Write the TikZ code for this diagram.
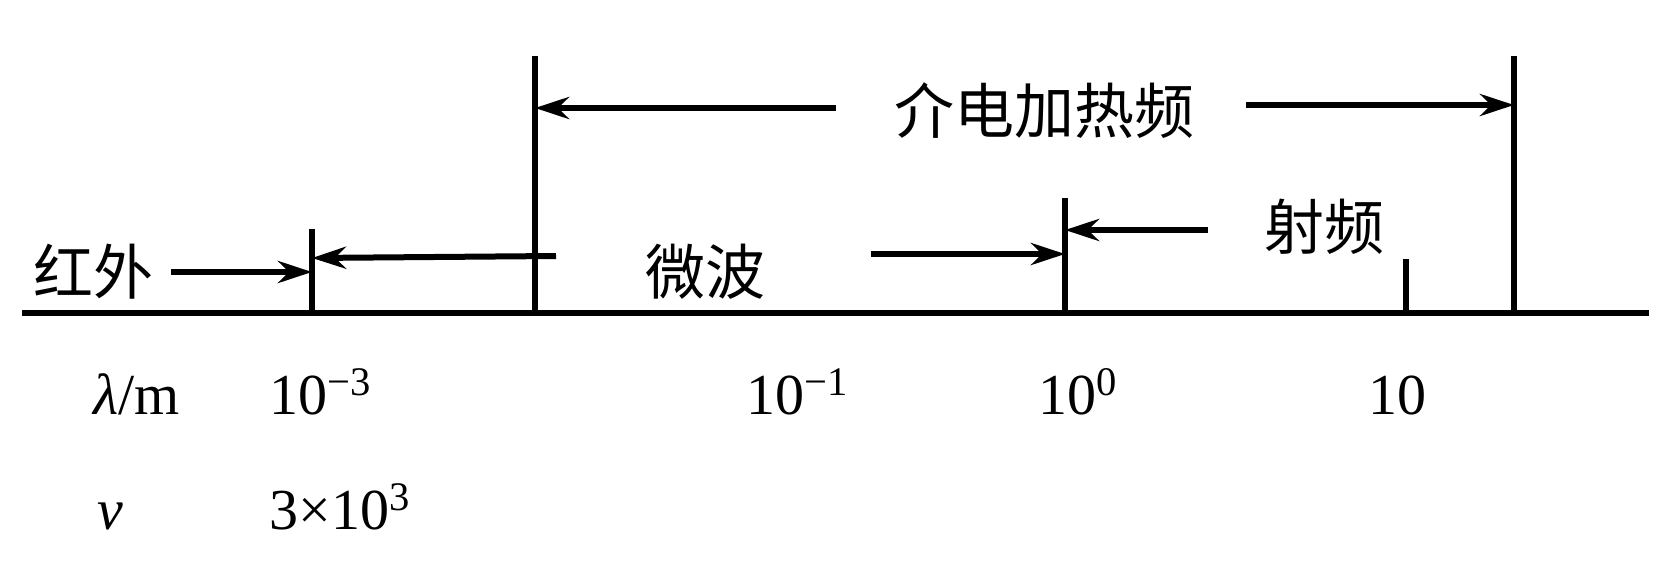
\documentclass[tikz,border=0pt]{standalone}
\usepackage{fontspec}
\setmainfont{Liberation Serif}
\newfontfamily\cjk{Noto Sans CJK SC}
\usetikzlibrary{arrows.meta,positioning}

\begin{document}
\begin{tikzpicture}[x=0.5pt,y=-0.5pt,
  axisline/.style={line width=3pt},
  tickline/.style={line width=2.8pt},
  bandarrow/.style={line width=3pt,-{Stealth[length=17pt,width=11pt]}},
  band/.style={inner sep=0pt,font=\cjk\fontsize{30pt}{30pt}\selectfont},
  num/.style={inner sep=0pt,anchor=base west,font=\fontsize{29pt}{29pt}\selectfont}]
\useasboundingbox (0,0) rectangle (1654,573);
% axis and ticks
\coordinate (a0) at (22,313);
\coordinate (a1) at (1649,313);
\draw[axisline] (a0) -- (a1);
\coordinate (t1) at (312,229);   \coordinate (b1) at (312,313);
\coordinate (t2) at (535,56);    \coordinate (b2) at (535,313);
\coordinate (t3) at (1065,198);  \coordinate (b3) at (1065,313);
\coordinate (t4) at (1406,259);  \coordinate (b4) at (1406,313);
\coordinate (t5) at (1514,56);   \coordinate (b5) at (1514,313);
\foreach \i in {1,...,5} \draw[tickline] (t\i) -- (b\i);

% band labels
\node[band] (ir) at (93,272) {红外};
\node[band] (mw) at (705,272) {微波};
\node[band] (rf) at (1324,227) {射频};
\node[band] (die) at (1044,111) {介电加热频};

% arrows
\coordinate (irs) at (171,272);  \coordinate (ire) at (312,272);
\coordinate (mws) at (556,256);  \coordinate (mwe) at (312,258);
\coordinate (mwr) at (871,254);  \coordinate (mwf) at (1065,254);
\coordinate (rfs) at (1208,230); \coordinate (rfe) at (1065,230);
\coordinate (dls) at (836,108);  \coordinate (dle) at (535,108);
\coordinate (drs) at (1246,105); \coordinate (dre) at (1514,105);
\draw[bandarrow] (irs) -- (ire);
\draw[bandarrow] (mws) -- (mwe);
\draw[bandarrow] (mwr) -- (mwf);
\draw[bandarrow] (rfs) -- (rfe);
\draw[bandarrow] (dls) -- (dle);
\draw[bandarrow] (drs) -- (dre);

% scale values
\node[num] (lam) at (93,414) {\textit{λ}/m};
\node[num] (w1) at (269,414) {10\textsuperscript{−3}};
\node[num] (w2) at (746,414) {10\textsuperscript{−1}};
\node[num] (w3) at (1038,414) {10\textsuperscript{0}};
\node[num] (w4) at (1368,414) {10};
\node[num] (nu) at (97,529) {\textit{ν}};
\node[num] (f1) at (269,529) {3×10\textsuperscript{3}};
\end{tikzpicture}
\end{document}
